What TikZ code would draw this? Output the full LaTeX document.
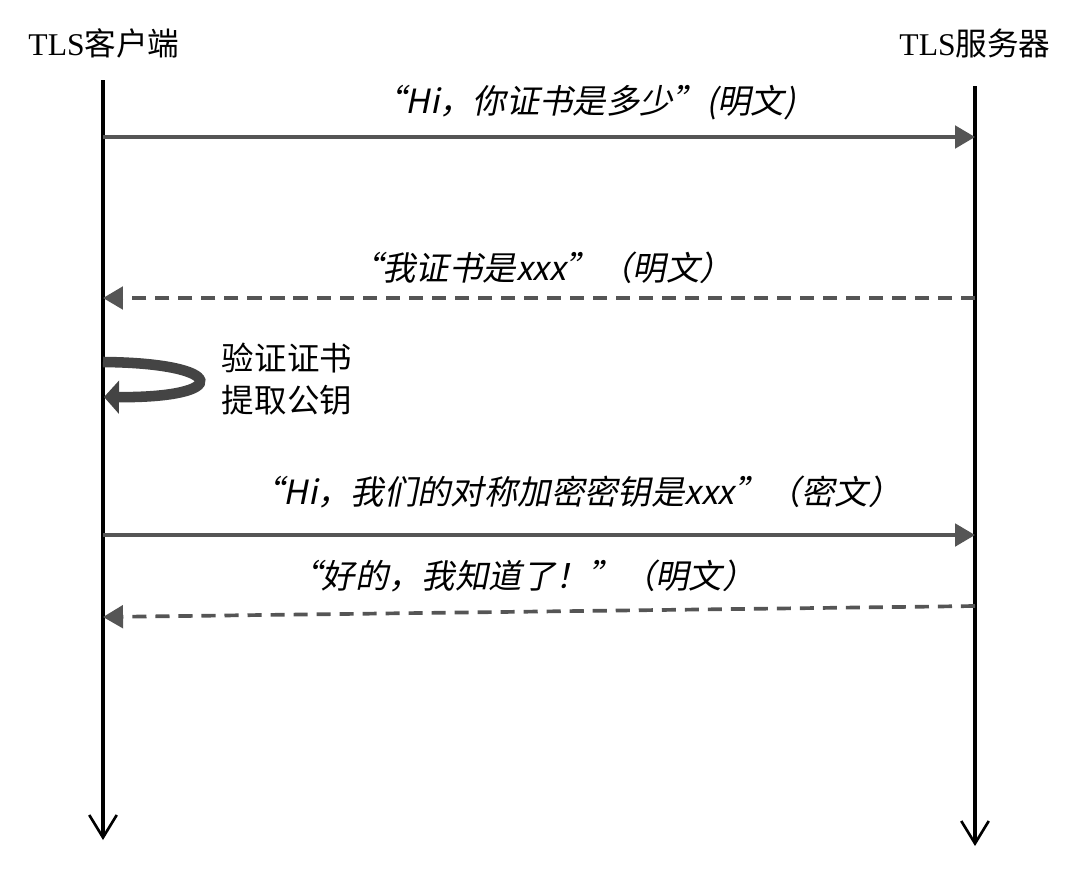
\documentclass[tikz,border=0pt]{standalone}
\usepackage{fontspec}
\setmainfont{Liberation Serif}
\newfontfamily\cjk{Noto Sans CJK SC}
\newfontfamily\cjkit[FakeSlant=0.2]{Noto Sans CJK SC}
\usetikzlibrary{arrows.meta}

\definecolor{msggray}{HTML}{555555}
\definecolor{loopgray}{HTML}{444444}

\tikzset{
  life/.style={line width=1.8pt, -{Straight Barb[length=0.45cm,width=0.55cm,line width=1.5pt]}},
  msg/.style={msggray, line width=2.1pt, -{Triangle[length=0.4cm,width=0.45cm]}},
  reply/.style={msg, dash pattern=on 8pt off 5.1pt},
  msglabel/.style={inner sep=0pt, font=\fontsize{19}{22}\cjkit},
  head/.style={inner sep=0pt, font=\fontsize{18}{21}\selectfont}
}

\begin{document}
\begin{tikzpicture}[x=0.02cm, y=-0.02cm]
 \useasboundingbox (0,0) rectangle (1091,873);

 % lifelines
 \node (client) at (104,43) [head] {TLS{\cjk 客户端}};
 \node (server) at (975,43) [head] {TLS{\cjk 服务器}};
 \coordinate (c0) at (103,80);
 \coordinate (c1) at (103,840);
 \coordinate (s0) at (975,86);
 \coordinate (s1) at (975,846);
 \draw [life] (c0) -- (c1);
 \draw [life] (s0) -- (s1);

 % messages
 \coordinate (m1c) at (103,137);  \coordinate (m1s) at (975,137);
 \coordinate (m2c) at (103,298);  \coordinate (m2s) at (975,298);
 \coordinate (m3c) at (103,535);  \coordinate (m3s) at (975,535);
 \coordinate (m4c) at (103,617);  \coordinate (m4s) at (975,606);

 \draw [msg] (m1c) -- (m1s);
 \node (t1) at (584,103) [msglabel] {“Hi，你证书是多少”(明文)};

 \draw [reply] (m2s) -- (m2c);
 \node (t2) at (541,268) [msglabel] {“我证书是xxx”（明文）};

 \draw [msg] (m3c) -- (m3s);
 \node (t3) at (576,492) [msglabel] {“Hi，我们的对称加密密钥是xxx”（密文）};

 \draw [reply] (m4s) -- (m4c);
 \node (t4) at (522,576) [msglabel] {“好的，我知道了！”（明文）};

 % self check
 \coordinate (l0) at (103,362);
 \coordinate (l1) at (104,397);
 \draw [loopgray, line width=6pt, -{Triangle[length=0.3cm,width=0.65cm]}]
   (l0) .. controls (228,363) and (232,398) .. (l1);
 \node (v1) at (287,358) [head, font=\fontsize{18.5}{21}\cjk] {验证证书};
 \node (v2) at (287,400) [head, font=\fontsize{18.5}{21}\cjk] {提取公钥};
\end{tikzpicture}
\end{document}
